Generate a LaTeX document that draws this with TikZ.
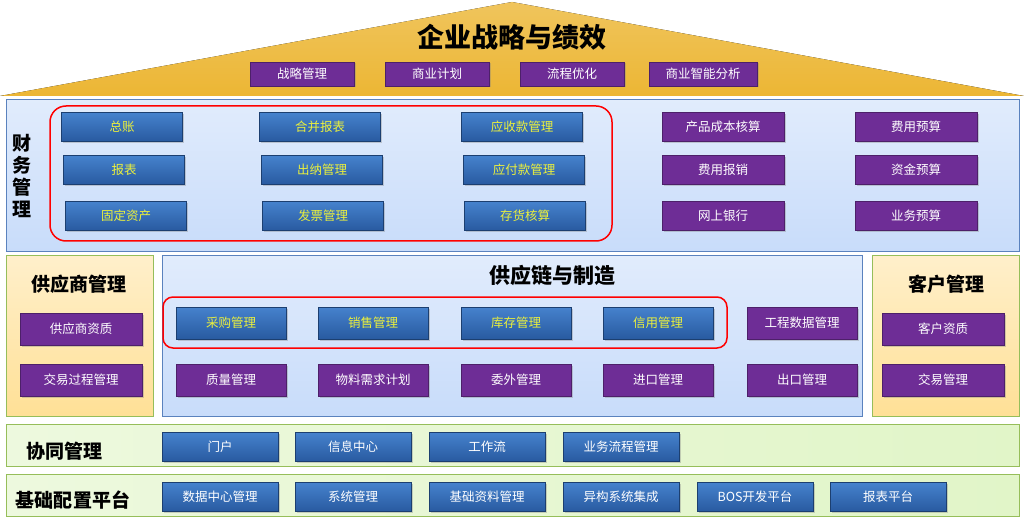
\documentclass[tikz,border=0pt]{standalone}
\usepackage{fontspec}
\setmainfont{Noto Sans CJK SC}
\usetikzlibrary{shadows}
\definecolor{roof}{RGB}{236,182,52}
\definecolor{pnlblue}{RGB}{200,220,250}
\definecolor{pnlline}{RGB}{90,130,190}
\definecolor{pnlorange}{RGB}{255,224,150}
\definecolor{pnlgreen}{RGB}{225,245,200}
\definecolor{grnline}{RGB}{150,190,90}
\definecolor{btop}{RGB}{70,130,205}
\definecolor{bbot}{RGB}{40,90,160}
\definecolor{purp}{RGB}{110,45,150}
\definecolor{txtyel}{RGB}{235,240,60}

\tikzset{
  bbox/.style={draw=bbot!70!black, top color=btop, bottom color=bbot, text=white, font=\fontsize{12.5}{14}\selectfont, inner sep=0pt, drop shadow={opacity=0.35, shadow xshift=1.5pt, shadow yshift=-1.5pt}},
  ybox/.style={bbox, text=txtyel},
  pbox/.style={draw=purp!70!black, fill=purp, text=white, font=\fontsize{12.5}{14}\selectfont, inner sep=0pt, drop shadow={opacity=0.35, shadow xshift=1.5pt, shadow yshift=-1.5pt}},
  panel/.style={draw=pnlline, line width=1pt},
  redframe/.style={draw=red, line width=1.5pt, rounded corners=16pt},
  heading/.style={font=\fontsize{19}{22}\selectfont\bfseries}
}

\begin{document}
\begin{tikzpicture}[x=1pt, y=-1pt]
  \useasboundingbox[fill=white] (0,0) rectangle (1024,518);
  % roof
  \fill[top color=roof!80!white, bottom color=roof] (0,96) -- (512,2) -- (1024,96) -- cycle;
  \node[font=\fontsize{27}{30}\selectfont\bfseries] (title) at (512,37) {企业战略与绩效};
  \node[pbox, minimum width=104pt, minimum height=24pt] (s1) at (302,74) {战略管理};
  \node[pbox, minimum width=104pt, minimum height=24pt] (s2) at (437,74) {商业计划};
  \node[pbox, minimum width=104pt, minimum height=24pt] (s3) at (572,74) {流程优化};
  \node[pbox, minimum width=108pt, minimum height=24pt] (s4) at (703,74) {商业智能分析};

  % finance
  \draw[panel, top color=pnlblue!55!white, bottom color=pnlblue] (6,100) rectangle (1019,252);
  \node[heading, align=center, inner sep=0pt] (fin) at (22,176) {财\\务\\管\\理};
  \draw[redframe] (50,106) rectangle (612,241);
  \node[ybox, minimum width=121pt, minimum height=29pt] (f11) at (122,127) {总账};
  \node[ybox, minimum width=121pt, minimum height=29pt] (f12) at (320,127) {合并报表};
  \node[ybox, minimum width=121pt, minimum height=29pt] (f13) at (522,127) {应收款管理};
  \node[ybox, minimum width=121pt, minimum height=29pt] (f21) at (124,170) {报表};
  \node[ybox, minimum width=121pt, minimum height=29pt] (f22) at (322,170) {出纳管理};
  \node[ybox, minimum width=121pt, minimum height=29pt] (f23) at (524,170) {应付款管理};
  \node[ybox, minimum width=121pt, minimum height=29pt] (f31) at (126,216) {固定资产};
  \node[ybox, minimum width=121pt, minimum height=29pt] (f32) at (323,216) {发票管理};
  \node[ybox, minimum width=121pt, minimum height=29pt] (f33) at (525,216) {存货核算};
  \node[pbox, minimum width=122pt, minimum height=29pt] (c1) at (723,127) {产品成本核算};
  \node[pbox, minimum width=122pt, minimum height=29pt] (c2) at (723,170) {费用报销};
  \node[pbox, minimum width=122pt, minimum height=29pt] (c3) at (723,216) {网上银行};
  \node[pbox, minimum width=122pt, minimum height=29pt] (b1) at (916,127) {费用预算};
  \node[pbox, minimum width=122pt, minimum height=29pt] (b2) at (916,170) {资金预算};
  \node[pbox, minimum width=122pt, minimum height=29pt] (b3) at (916,216) {业务预算};

  % supplier
  \draw[draw=grnline, line width=1pt, top color=pnlorange!50!white, bottom color=pnlorange] (6,256) rectangle (153,416);
  \node[heading] (sup) at (79,284) {供应商管理};
  \node[pbox, minimum width=122pt, minimum height=32pt] (v1) at (81,329) {供应商资质};
  \node[pbox, minimum width=122pt, minimum height=32pt] (v2) at (81,380) {交易过程管理};

  % supply chain
  \draw[panel, top color=pnlblue!55!white, bottom color=pnlblue] (162,256) rectangle (862,416);
  \node[heading, font=\fontsize{21}{24}\selectfont\bfseries] (scm) at (552,275) {供应链与制造};
  \draw[redframe, rounded corners=10pt] (163,297) rectangle (727,348);
  \node[ybox, minimum width=110pt, minimum height=32pt] (m1) at (231,323) {采购管理};
  \node[ybox, minimum width=110pt, minimum height=32pt] (m2) at (373,323) {销售管理};
  \node[ybox, minimum width=110pt, minimum height=32pt] (m3) at (516,323) {库存管理};
  \node[ybox, minimum width=110pt, minimum height=32pt] (m4) at (658,323) {信用管理};
  \node[pbox, minimum width=110pt, minimum height=32pt] (m5) at (802,323) {工程数据管理};
  \node[pbox, minimum width=110pt, minimum height=32pt] (n1) at (231,380) {质量管理};
  \node[pbox, minimum width=110pt, minimum height=32pt] (n2) at (373,380) {物料需求计划};
  \node[pbox, minimum width=110pt, minimum height=32pt] (n3) at (516,380) {委外管理};
  \node[pbox, minimum width=110pt, minimum height=32pt] (n4) at (658,380) {进口管理};
  \node[pbox, minimum width=110pt, minimum height=32pt] (n5) at (802,380) {出口管理};

  % customer
  \draw[draw=grnline, line width=1pt, top color=pnlorange!50!white, bottom color=pnlorange] (872,256) rectangle (1019,416);
  \node[heading] (cus) at (946,284) {客户管理};
  \node[pbox, minimum width=122pt, minimum height=32pt] (k1) at (943,329) {客户资质};
  \node[pbox, minimum width=122pt, minimum height=32pt] (k2) at (943,380) {交易管理};

  % collaboration
  \draw[draw=grnline, line width=1pt, left color=pnlgreen!60!white, right color=pnlgreen] (6,424) rectangle (1019,466);
  \node[heading] (col) at (64,451) {协同管理};
  \node[bbox, minimum width=116pt, minimum height=29pt] (x1) at (220,447) {门户};
  \node[bbox, minimum width=116pt, minimum height=29pt] (x2) at (353,447) {信息中心};
  \node[bbox, minimum width=116pt, minimum height=29pt] (x3) at (487,447) {工作流};
  \node[bbox, minimum width=116pt, minimum height=29pt] (x4) at (621,447) {业务流程管理};

  % platform
  \draw[draw=grnline, line width=1pt, left color=pnlgreen!60!white, right color=pnlgreen] (6,474) rectangle (1019,516);
  \node[heading] (plf) at (73,500) {基础配置平台};
  \node[bbox, minimum width=116pt, minimum height=29pt] (y1) at (220,497) {数据中心管理};
  \node[bbox, minimum width=116pt, minimum height=29pt] (y2) at (353,497) {系统管理};
  \node[bbox, minimum width=116pt, minimum height=29pt] (y3) at (487,497) {基础资料管理};
  \node[bbox, minimum width=116pt, minimum height=29pt] (y4) at (621,497) {异构系统集成};
  \node[bbox, minimum width=116pt, minimum height=29pt] (y5) at (755,497) {BOS开发平台};
  \node[bbox, minimum width=116pt, minimum height=29pt] (y6) at (888,497) {报表平台};
\end{tikzpicture}
\end{document}
